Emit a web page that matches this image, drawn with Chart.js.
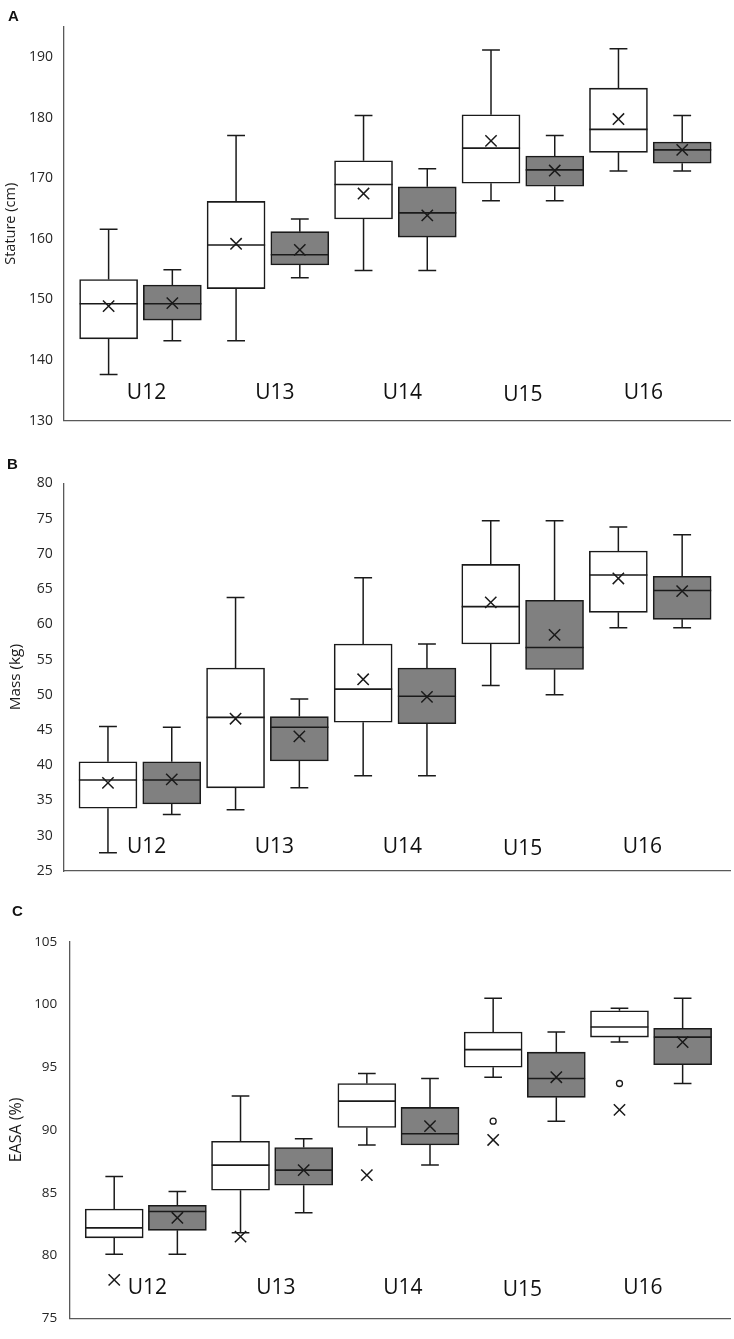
<!DOCTYPE html>
<html><head><meta charset="utf-8">
<script src="https://cdn.jsdelivr.net/npm/chart.js@4.4.0/dist/chart.umd.min.js"></script>
<style>
html,body{margin:0;padding:0;background:#fff;}
body{width:734px;height:1339px;position:relative;overflow:hidden;}
.panel{position:absolute;left:0;width:734px;}
.tag{position:absolute;font:bold 15px "Liberation Sans",Arial,sans-serif;line-height:15px;color:#111;}
</style></head><body>
<div class="panel" style="top:0;height:440px"><canvas id="cA" width="734" height="440"></canvas></div>
<div class="panel" style="top:440px;height:450px"><canvas id="cB" width="734" height="450"></canvas></div>
<div class="panel" style="top:890px;height:449px"><canvas id="cC" width="734" height="449"></canvas></div>
<div class="tag" style="left:8px;top:8px">A</div>
<div class="tag" style="left:7px;top:456px">B</div>
<div class="tag" style="left:12px;top:903px">C</div>
<script>
// ---------- data ----------
const categories = ['U12', 'U13', 'U14', 'U15', 'U16'];

// Panel A: Stature (cm)
const statureTicks = [130, 140, 150, 160, 170, 180, 190];
const statureWhiteMin    = [137.6, 143.2, 154.8, 166.3, 171.2];
const statureWhiteQ1     = [143.5, 151.8, 163.3, 169.2, 174.3];
const statureWhiteMedian = [149.3, 159.0, 169.0, 175.0, 178.1];
const statureWhiteQ3     = [153.3, 166.2, 172.9, 180.5, 184.9];
const statureWhiteMax    = [161.6, 177.1, 180.4, 191.2, 191.4];
const statureWhiteMean   = [148.9, 159.2, 167.5, 176.2, 179.8];
const statureGreyMin     = [143.2, 153.6, 154.8, 166.3, 171.2];
const statureGreyQ1      = [146.6, 155.7, 160.3, 168.7, 172.5];
const statureGreyMedian  = [149.3, 157.4, 164.3, 171.4, 174.7];
const statureGreyQ3      = [152.4, 161.2, 168.6, 173.7, 176.0];
const statureGreyMax     = [154.9, 163.3, 171.6, 177.1, 180.4];
const statureGreyMean    = [149.4, 158.2, 163.9, 171.3, 174.7];

// Panel B: Mass (kg)
const massTicks = [25, 30, 35, 40, 45, 50, 55, 60, 65, 70, 75, 80];
const massWhiteMin    = [27.6, 33.7, 38.5, 51.3, 59.5];
const massWhiteQ1     = [33.9, 36.8, 46.1, 57.2, 61.7];
const massWhiteMedian = [37.9, 46.8, 50.8, 62.5, 67.0];
const massWhiteQ3     = [40.5, 53.8, 57.2, 68.5, 70.4];
const massWhiteMax    = [45.5, 63.8, 66.6, 74.7, 73.8];
const massWhiteMean   = [37.5, 46.6, 52.2, 63.1, 66.5];
const massGreyMin     = [33.0, 36.8, 38.5, 50.0, 59.5];
const massGreyQ1      = [34.5, 40.6, 45.9, 53.6, 60.7];
const massGreyMedian  = [37.9, 45.4, 49.8, 56.7, 64.8];
const massGreyQ3      = [40.5, 46.9, 53.8, 63.4, 66.8];
const massGreyMax     = [45.4, 49.4, 57.2, 74.7, 72.7];
const massGreyMean    = [38.0, 44.1, 49.7, 58.5, 64.7];

// Panel C: EASA (%)
const easaTicks = [75, 80, 85, 90, 95, 100, 105];
const easaWhiteMin      = [80.1, 81.8, 88.8, 94.2, 97.0];
const easaWhiteQ1       = [81.4, 85.2, 90.2, 95.0, 97.4];
const easaWhiteMedian   = [82.2, 87.2, 92.3, 96.4, 98.2];
const easaWhiteQ3       = [83.7, 89.1, 93.7, 97.8, 99.5];
const easaWhiteMax      = [86.3, 92.7, 94.5, 100.5, 99.7];
const easaWhiteMean     = [78.05, 81.5, 86.4, 89.2, 91.6];
const easaWhiteOutliers = [null, null, null, 90.7, 93.7];
const easaGreyMin       = [80.1, 83.4, 87.2, 90.7, 93.7];
const easaGreyQ1        = [82.0, 85.6, 88.8, 92.6, 95.2];
const easaGreyMedian    = [83.5, 86.8, 89.7, 94.1, 97.4];
const easaGreyQ3        = [84.0, 88.6, 91.8, 96.2, 98.1];
const easaGreyMax       = [85.1, 89.3, 94.1, 97.8, 100.5];
const easaGreyMean      = [83.0, 86.8, 90.3, 94.2, 97.0];
const easaGreyOutliers  = [null, null, null, null, null];

// ---------- helpers ----------
const OFF = 0.25, HALF = 0.228, CAP = 0.07;
const INK = '#1a1a1a';

function boxData(off, q1, q3) {
  return categories.map((c, i) => ({ x: i + off, y: [q1[i], q3[i]] }));
}
function whiskerData(off, mn, q1, q3, mx) {
  const d = [];
  categories.forEach((c, i) => {
    const x = i + off;
    d.push({ x, y: mn[i] }, { x, y: q1[i] }, { x, y: null });
    d.push({ x, y: q3[i] }, { x, y: mx[i] }, { x, y: null });
    d.push({ x: x - CAP, y: mn[i] }, { x: x + CAP, y: mn[i] }, { x, y: null });
    d.push({ x: x - CAP, y: mx[i] }, { x: x + CAP, y: mx[i] }, { x, y: null });
  });
  return d;
}
function medianData(off, med) {
  const d = [];
  categories.forEach((c, i) => {
    const x = i + off;
    d.push({ x: x - HALF, y: med[i] }, { x: x + HALF, y: med[i] }, { x, y: null });
  });
  return d;
}
function pointData(off, vals) {
  return categories.map((c, i) => ({ x: i + off, y: vals[i] })).filter(p => p.y !== null);
}

// category names written inside the plot, near the x axis
const catLabels = {
  id: 'catLabels',
  afterDatasetsDraw(chart, args, opts) {
    const { ctx, chartArea, scales: { x } } = chart;
    ctx.save();
    ctx.font = '21px "Open Sans"';
    ctx.fillStyle = '#111';
    ctx.textAlign = 'center';
    ctx.textBaseline = 'alphabetic';
    categories.forEach((c, i) => {
      const dx = opts.nudgeX[i] || 0, dy = opts.nudgeY[i] || 0;
      ctx.fillText(c, x.getPixelForValue(i) + dx, chartArea.bottom - opts.lift + dy);
    });
    ctx.restore();
  }
};

function makeChart(id, p) {
  const w = p.white, g = p.grey;
  const datasets = [
    { type: 'bar', data: boxData(-OFF, w.q1, w.q3), backgroundColor: '#ffffff', borderColor: INK, borderWidth: 1.6, borderSkipped: false, barThickness: 58, grouped: false, order: 5 },
    { type: 'bar', data: boxData(OFF, g.q1, g.q3), backgroundColor: '#808080', borderColor: INK, borderWidth: 1.6, borderSkipped: false, barThickness: 58, grouped: false, order: 5 },
    { type: 'line', data: whiskerData(-OFF, w.min, w.q1, w.q3, w.max), borderColor: INK, borderWidth: 1.5, pointRadius: 0, spanGaps: false, order: 4 },
    { type: 'line', data: whiskerData(OFF, g.min, g.q1, g.q3, g.max), borderColor: INK, borderWidth: 1.5, pointRadius: 0, spanGaps: false, order: 4 },
    { type: 'line', data: medianData(-OFF, w.median), borderColor: INK, borderWidth: 1.6, pointRadius: 0, spanGaps: false, order: 3 },
    { type: 'line', data: medianData(OFF, g.median), borderColor: INK, borderWidth: 1.6, pointRadius: 0, spanGaps: false, order: 3 },
    { type: 'line', data: pointData(-OFF, w.mean), showLine: false, pointStyle: 'crossRot', pointRadius: 8, pointBorderWidth: 1.5, pointBorderColor: INK, order: 1 },
    { type: 'line', data: pointData(OFF, g.mean), showLine: false, pointStyle: 'crossRot', pointRadius: 8, pointBorderWidth: 1.5, pointBorderColor: INK, order: 1 },
    { type: 'line', data: pointData(-OFF, w.outliers), showLine: false, pointStyle: 'circle', pointRadius: 3, pointBorderWidth: 1.3, pointBorderColor: INK, pointBackgroundColor: '#fff', order: 1 },
    { type: 'line', data: pointData(OFF, g.outliers), showLine: false, pointStyle: 'circle', pointRadius: 3, pointBorderWidth: 1.3, pointBorderColor: INK, pointBackgroundColor: '#fff', order: 1 }
  ];
  return new Chart(document.getElementById(id), {
    type: 'bar',
    data: { datasets },
    plugins: [catLabels],
    options: {
      responsive: false,
      animation: false,
      events: [],
      layout: { autoPadding: false, padding: { left: 0, top: p.top, right: 4, bottom: p.bottom } },
      plugins: {
        legend: { display: false }, tooltip: { enabled: false },
        catLabels: { lift: p.lift, nudgeX: p.nudgeX, nudgeY: [0, 0, 0, 2, 0] }
      },
      scales: {
        x: {
          type: 'linear', min: -0.6, max: 4.625, offset: false,
          grid: { display: false, drawTicks: false },
          ticks: { display: false },
          border: { display: true, color: '#595959', width: 1.3 },
          afterFit(s) { s.height = 0; }
        },
        y: {
          type: 'linear', min: p.yMin, max: p.yMax,
          grid: { display: false, drawTicks: false },
          border: { display: true, color: '#595959', width: 1.3 },
          afterBuildTicks(s) { s.ticks = p.ticks.map(v => ({ value: v })); },
          ticks: { padding: p.tickPad, color: '#262626', font: { family: 'Open Sans', size: p.tickSize } },
          title: { display: true, text: p.title, color: '#1a1a1a', font: { family: 'Open Sans', size: p.titleSize, lineHeight: 1.2 }, padding: { top: p.titlePad, bottom: 0 } },
          afterFit(s) { s.width = p.left; }
        }
      }
    }
  });
}

makeChart('cA', {
  yMin: 130, yMax: 195, ticks: statureTicks, title: 'Stature (cm)', titleSize: 14.5, titlePad: 1.8,
  tickSize: 14, tickPad: 11, left: 64, top: 27, bottom: 16, lift: 21.3, nudgeX: [6, 7, 7, 0, -7],
  white: { min: statureWhiteMin, q1: statureWhiteQ1, median: statureWhiteMedian, q3: statureWhiteQ3, max: statureWhiteMax, mean: statureWhiteMean, outliers: [null, null, null, null, null] },
  grey:  { min: statureGreyMin,  q1: statureGreyQ1,  median: statureGreyMedian,  q3: statureGreyQ3,  max: statureGreyMax,  mean: statureGreyMean,  outliers: [null, null, null, null, null] }
});
makeChart('cB', {
  yMin: 25, yMax: 80, ticks: massTicks, title: 'Mass (kg)', titleSize: 15.3, titlePad: 6.6,
  tickSize: 14, tickPad: 10.6, left: 63.3, top: 43.3, bottom: 16.7, lift: 18.3, nudgeX: [6.7, 7, 7.3, 0, -7.8],
  white: { min: massWhiteMin, q1: massWhiteQ1, median: massWhiteMedian, q3: massWhiteQ3, max: massWhiteMax, mean: massWhiteMean, outliers: [null, null, null, null, null] },
  grey:  { min: massGreyMin,  q1: massGreyQ1,  median: massGreyMedian,  q3: massGreyQ3,  max: massGreyMax,  mean: massGreyMean,  outliers: [null, null, null, null, null] }
});
makeChart('cC', {
  yMin: 75, yMax: 105, ticks: easaTicks, title: 'EASA (%)', titleSize: 16, titlePad: 7.1,
  tickSize: 13.5, tickPad: 12.7, left: 70, top: 51.7, bottom: 7.3, lift: 24.4, nudgeX: [1.5, 3.7, 4.5, -2.3, -8.2],
  white: { min: easaWhiteMin, q1: easaWhiteQ1, median: easaWhiteMedian, q3: easaWhiteQ3, max: easaWhiteMax, mean: easaWhiteMean, outliers: easaWhiteOutliers },
  grey:  { min: easaGreyMin,  q1: easaGreyQ1,  median: easaGreyMedian,  q3: easaGreyQ3,  max: easaGreyMax,  mean: easaGreyMean,  outliers: easaGreyOutliers }
});
</script>
</body></html>
